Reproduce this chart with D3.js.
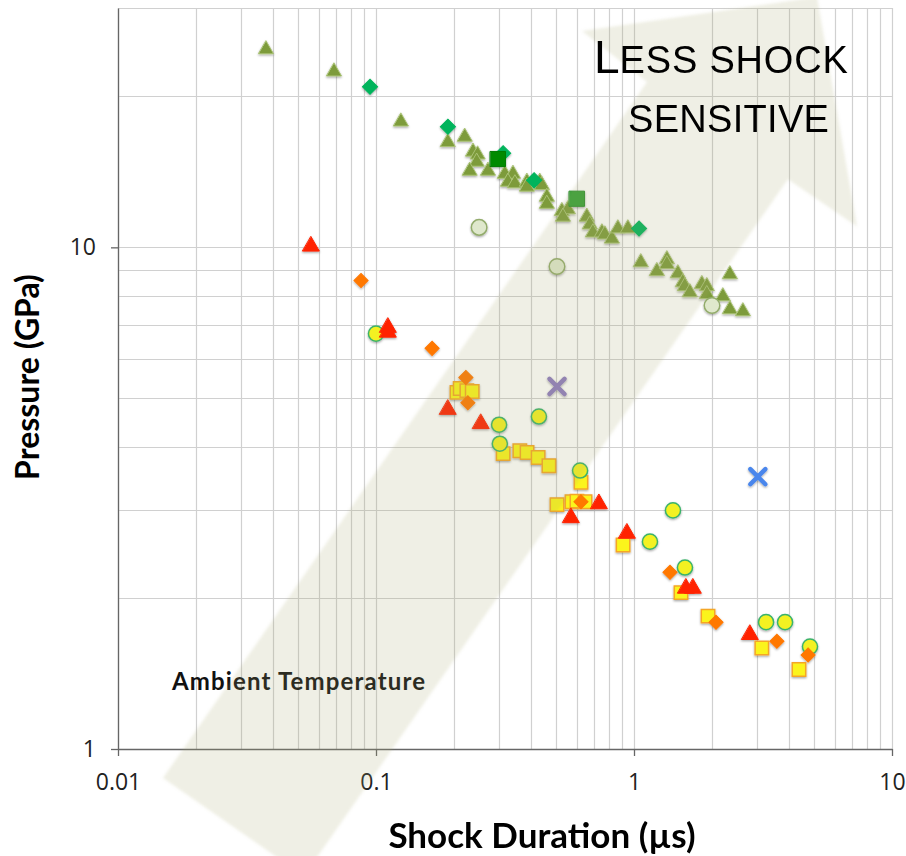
<!DOCTYPE html>
<html>
<head>
<meta charset="utf-8">
<script src="https://cdn.jsdelivr.net/npm/d3@7"></script>
<style>
  body { margin: 0; background: #fff; }
  svg { display: block; }
</style>
</head>
<body>
<div id="chart"></div>
<script>
// shock duration (µs), pressure (GPa)
var oliveTriangles = [
  [0.0375, 24.8], [0.0688, 22.4], [0.125, 17.8], [0.190, 16.2], [0.221, 16.6],
  [0.238, 15.5], [0.248, 15.3], [0.246, 14.8], [0.231, 14.2], [0.272, 14.2],
  [0.316, 14.0], [0.340, 14.0], [0.325, 13.5], [0.346, 13.4], [0.385, 13.5],
  [0.385, 13.2], [0.432, 13.5], [0.440, 13.3], [0.460, 12.6], [0.460, 12.2],
  [0.526, 11.8], [0.555, 11.9], [0.531, 11.5], [0.657, 11.5], [0.675, 11.1],
  [0.694, 10.7], [0.752, 10.7], [0.772, 10.6], [0.822, 10.4], [0.867, 10.9],
  [0.948, 10.9], [1.064, 9.33], [1.228, 8.96], [1.343, 9.46], [1.343, 9.25],
  [1.481, 8.87], [1.548, 8.51], [1.576, 8.36], [1.648, 8.13], [1.835, 8.44],
  [1.918, 8.36], [1.918, 8.06], [2.356, 8.83], [2.213, 7.98], [2.356, 7.52],
  [2.646, 7.45]
]
var greenDiamonds = [[0.0948, 20.9], [0.190, 17.4], [0.311, 15.4], [0.410, 13.6], [1.046, 10.9]]
var darkGreenSquares = [[0.297, 15.0]]
var midGreenSquares = [[0.601, 12.5]]
var paleCircles = [[0.251, 10.96], [0.503, 9.16], [2.006, 7.66]]
var redTriangles = [
  [0.0560, 10.05], [0.1113, 6.92], [0.1113, 6.77], [0.190, 4.75], [0.255, 4.45],
  [0.570, 2.89], [0.732, 3.08], [0.940, 2.69], [1.591, 2.09], [1.693, 2.09], [2.816, 1.69]
]
var orangeDiamonds = [
  [0.0875, 8.59], [0.165, 6.29], [0.223, 5.50], [0.227, 4.90], [0.623, 3.11],
  [1.379, 2.25], [2.079, 1.79], [3.58, 1.64], [4.73, 1.54]
]
var yellowSquares = [
  [0.206, 5.14], [0.212, 5.23], [0.225, 5.18], [0.236, 5.16], [0.311, 3.88],
  [0.361, 3.93], [0.385, 3.90], [0.425, 3.81], [0.468, 3.67], [0.623, 3.40],
  [0.503, 3.07], [0.575, 3.11], [0.601, 3.12], [0.646, 3.11], [0.907, 2.55],
  [1.521, 2.05], [1.936, 1.84], [3.13, 1.59], [4.36, 1.44]
]
var yellowCircles = [
  [0.100, 6.73], [0.300, 4.43], [0.428, 4.60], [0.302, 4.06], [0.618, 3.59],
  [1.416, 2.99], [1.153, 2.59], [1.576, 2.30], [3.25, 1.79], [3.85, 1.79], [4.81, 1.60]
]
var purpleCrosses = [[0.503, 5.28]]
var blueCrosses = [[3.02, 3.49]]

var xTickValues = [0.01, 0.1, 1, 10]
var xTickLabels = ["0.01", "0.1", "1", "10"]
var yTickValues = [1, 10]
var yTickLabels = ["1", "10"]

// big arrow drawn over the points, in data units
var arrowOutline = [
  [0.01494, 0.875], [1.123, 21.35], [0.629, 26.98], [5.12, 31.55],
  [7.32, 11.01], [3.95, 13.67], [0.0526, 0.558]
]

var width = 906, height = 856
var margin = { top: 8, right: 14, bottom: 107, left: 118 }

var svg = d3.select("#chart").append("svg")
  .attr("width", width)
  .attr("height", height)

var defs = svg.append("defs")
var shadow = defs.append("filter").attr("id", "shadow")
  .attr("x", "-50%").attr("y", "-50%").attr("width", "200%").attr("height", "200%")
shadow.append("feDropShadow")
  .attr("dx", 0).attr("dy", 1.2).attr("stdDeviation", 0.8)
  .attr("flood-color", "#000").attr("flood-opacity", 0.35)
var soft = defs.append("filter").attr("id", "soft")
  .attr("x", "-10%").attr("y", "-10%").attr("width", "120%").attr("height", "120%")
soft.append("feGaussianBlur").attr("stdDeviation", 1.6)

var x = d3.scaleLog().domain([0.01, 10]).range([margin.left, width - margin.right])
var y = d3.scaleLog().domain([1, 30]).range([height - margin.bottom, margin.top])

var x0 = x.range()[0], x1 = x.range()[1]
var y0 = y.range()[0], y1 = y.range()[1]

// grid
var xGrid = x.ticks(), yGrid = y.ticks().concat([30])
var grid = svg.append("g")
grid.selectAll(".vg").data(xGrid).enter().append("line")
  .attr("x1", function (d) { return Math.round(x(d)) + 0.5 })
  .attr("x2", function (d) { return Math.round(x(d)) + 0.5 })
  .attr("y1", y1).attr("y2", y0)
  .style("stroke", "#d0d0d0").style("stroke-width", 1.2)
grid.selectAll(".hg").data(yGrid).enter().append("line")
  .attr("y1", function (d) { return Math.round(y(d)) + 0.5 })
  .attr("y2", function (d) { return Math.round(y(d)) + 0.5 })
  .attr("x1", x0).attr("x2", x1)
  .style("stroke", "#d0d0d0").style("stroke-width", 1.2)

// axes
var xAxis = d3.axisBottom(x).tickValues(xTickValues)
  .tickFormat(function (d, i) { return xTickLabels[i] }).tickSize(7).tickPadding(18)
var yAxis = d3.axisLeft(y).tickValues(yTickValues)
  .tickFormat(function (d, i) { return yTickLabels[i] }).tickSize(7).tickPadding(15)

function styleAxis(g) {
  g.select(".domain").style("stroke", "#666").style("stroke-width", 1.3)
  g.selectAll(".tick line").style("stroke", "#666").style("stroke-width", 1.3)
  g.selectAll(".tick text")
    .style("font-family", "'Liberation Sans Narrow', 'Open Sans', sans-serif")
    .style("font-size", "23px").style("fill", "#222")
}

svg.append("g")
  .attr("transform", "translate(0," + y0 + ")")
  .call(xAxis.tickSizeOuter(0))
  .call(styleAxis)
svg.append("g")
  .attr("transform", "translate(" + x0 + ",0)")
  .call(yAxis.tickSizeOuter(0))
  .call(styleAxis)

svg.append("text")
  .attr("x", 172).attr("y", 690)
  .attr("textLength", 253).attr("lengthAdjust", "spacing")
  .style("font-family", "Lato, sans-serif").style("font-weight", "bold")
  .style("font-size", "24px").style("fill", "#111")
  .text("Ambient Temperature")

// markers
var series = [
  { data: oliveTriangles, type: d3.symbolTriangle, size: 95, fill: "#7d9b3b", stroke: "#a9c274", sw: 1 },
  { data: paleCircles, type: d3.symbolCircle, size: 190, fill: "#dfe8cc", stroke: "#93ac6c", sw: 1.5 },
  { data: greenDiamonds, type: d3.symbolSquare, size: 115, rotate: 45, fill: "#00b45c", stroke: "#00b45c", sw: 1 },
  { data: darkGreenSquares, type: d3.symbolSquare, size: 230, fill: "#008a00", stroke: "#007a00", sw: 1 },
  { data: midGreenSquares, type: d3.symbolSquare, size: 230, fill: "#37a137", stroke: "#2d912d", sw: 1 },
  { data: yellowSquares, type: d3.symbolSquare, size: 180, fill: "#fbf41c", stroke: "#f5a628", sw: 1.5 },
  { data: yellowCircles, type: d3.symbolCircle, size: 180, fill: "#f3f120", stroke: "#3bb36b", sw: 1.5 },
  { data: redTriangles, type: d3.symbolTriangle, size: 120, fill: "#ff2200", stroke: "#ff2200", sw: 1 },
  { data: orangeDiamonds, type: d3.symbolSquare, size: 100, rotate: 45, fill: "#ff7800", stroke: "#ff7800", sw: 1 },
  { data: purpleCrosses, type: d3.symbolX, size: 150, fill: "none", stroke: "#8e7cc0", sw: 4.5 },
  { data: blueCrosses, type: d3.symbolX, size: 150, fill: "none", stroke: "#4a86ec", sw: 4.5 }
]

var marks = svg.append("g").attr("filter", "url(#shadow)")
series.forEach(function (s) {
  var sym = d3.symbol().type(s.type).size(s.size)
  marks.append("g").selectAll("path").data(s.data).enter().append("path")
    .attr("d", sym)
    .attr("transform", function (d) {
      return "translate(" + x(d[0]) + "," + y(d[1]) + ")" + (s.rotate ? " rotate(" + s.rotate + ")" : "")
    })
    .style("fill", s.fill)
    .style("stroke", s.stroke)
    .style("stroke-width", s.sw)
    .style("stroke-linecap", "round")
})

// translucent arrow over the points
var arrowLine = d3.line()
  .x(function (d) { return x(d[0]) })
  .y(function (d) { return y(d[1]) })
svg.append("path")
  .attr("d", arrowLine(arrowOutline) + "Z")
  .attr("filter", "url(#soft)")
  .style("fill", "#a8a870")
  .style("fill-opacity", 0.18)

var note = svg.append("text")
  .style("font-family", "'Liberation Sans', Arial, sans-serif")
  .style("fill", "#000")
note.append("tspan").attr("x", 594).attr("y", 73).style("font-size", "46px").text("L")
note.append("tspan").style("font-size", "38px").style("letter-spacing", "0.8px").text("ESS SHOCK")
note.append("tspan").attr("x", 628).attr("y", 132).style("font-size", "38px").style("letter-spacing", "0.3px").text("SENSITIVE")

svg.append("text")
  .attr("x", 542).attr("y", 848)
  .attr("text-anchor", "middle")
  .style("font-family", "Lato, sans-serif").style("font-weight", "bold")
  .style("font-size", "35px").style("fill", "#000")
  .text("Shock Duration (µs)")

svg.append("text")
  .attr("transform", "translate(39,377) rotate(-90)")
  .attr("text-anchor", "middle")
  .style("font-family", "Lato, sans-serif").style("font-weight", "bold")
  .style("font-size", "32px").style("fill", "#000")
  .text("Pressure (GPa)")
</script>
</body>
</html>
